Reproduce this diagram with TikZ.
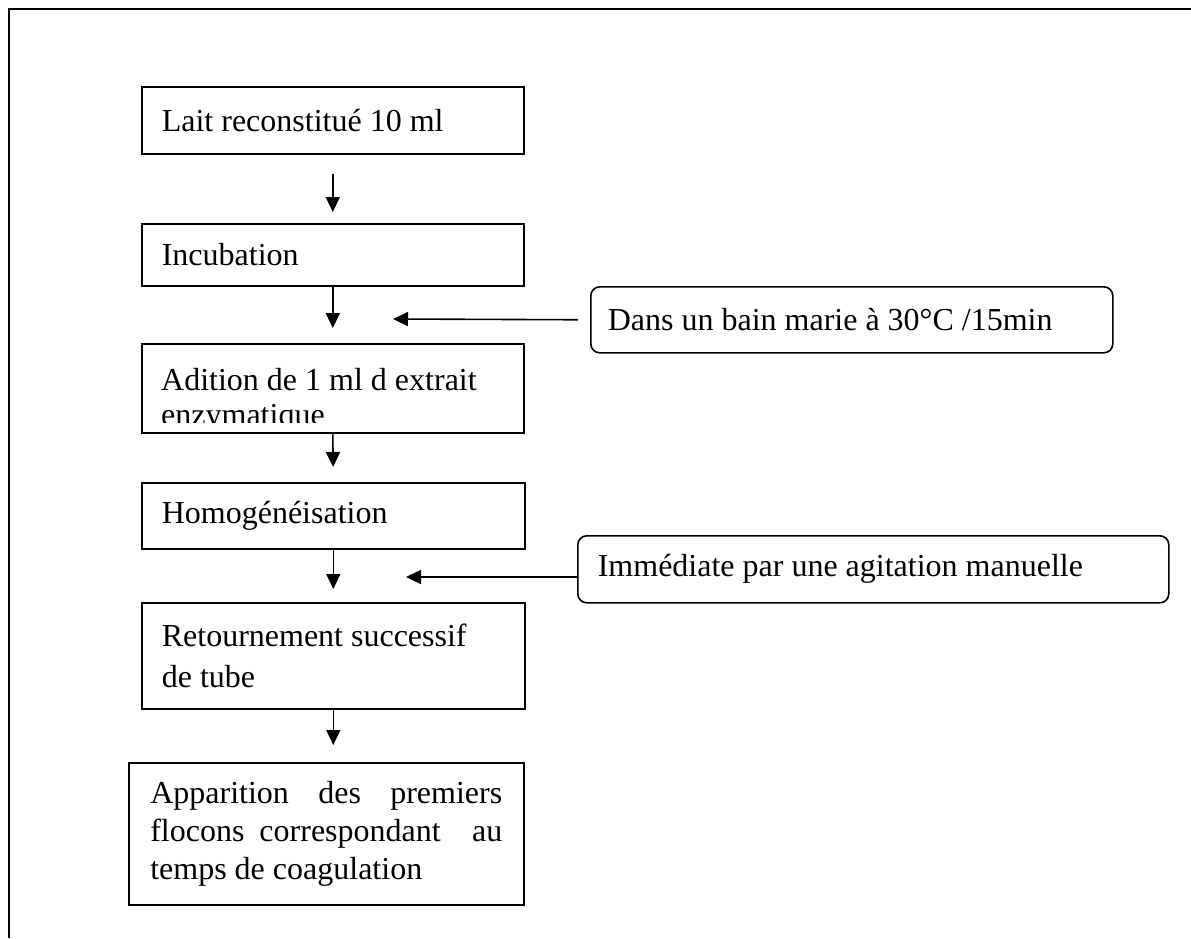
\documentclass[tikz,border=0pt]{standalone}
\usepackage{fontspec}
\setmainfont{Liberation Serif}
\usetikzlibrary{arrows.meta}
\begin{document}
\begin{tikzpicture}[x=1pt,y=-1pt,
  box/.style={draw, line width=1.6pt, anchor=north west, align=flush left,
    inner xsep=20pt, inner ysep=0pt, font=\fontsize{32}{38}\selectfont},
  side/.style={box, rounded corners=9pt},
  txt/.style={anchor=base west, inner sep=0pt, font=\fontsize{32}{38}\selectfont},
  arr/.style={line width=1.6pt, -{Triangle[width=14pt,length=15pt]}},
  framestyle/.style={line width=2pt}]
\useasboundingbox (0,0) rectangle (1191,938);
% outer frame
\draw[framestyle] (9,938) -- (9,9) -- (1191,9);
% main column
\node[box, minimum width=382pt, text width=342pt, minimum height=67pt] (b1) at (141,86) {Lait reconstitué 10 ml};
\node[box, minimum width=382pt, text width=342pt, minimum height=62pt] (b2) at (141,223) {Incubation};
\node[box, minimum width=382pt, text width=342pt, minimum height=89pt] (b3) at (141,343) {};
\begin{scope}
  \clip (142,344) rectangle (522,422);
  \node[txt] (t3a) at (161,390) {Adition de 1 ml d extrait};
  \node[txt] (t3b) at (161,425) {enzymatique};
\end{scope}
\node[box, minimum width=383pt, text width=343pt, minimum height=66pt] (b4) at (141,482) {Homogénéisation};
\node[box, minimum width=383pt, text width=343pt, minimum height=106pt, font=\fontsize{32}{41}\selectfont] (b5) at (141,602) {Retournement successif\\de tube};
\node[box, minimum width=395pt, text width=352pt, inner xsep=21.5pt, minimum height=142pt] (b6) at (128,762)
  {\makebox[\linewidth]{Apparition\hfill des\hfill premiers}\\
   \makebox[\linewidth]{flocons\hskip15pt correspondant\hfill au}\\
   temps de coagulation};
% side notes
\node[side, minimum width=522pt, text width=488pt, inner xsep=17pt, minimum height=66pt] (s1) at (590,286) {Dans un bain marie à 30°C /15min};
\node[side, minimum width=591pt, text width=551pt, minimum height=67pt] (s2) at (577,535) {Immédiate par une agitation manuelle};
% arrows
\draw[arr, shorten <=19pt, shorten >=11pt] (b1.south) -- (b2.north);
\draw[arr, shorten >=15pt] (b2.south) -- (b3.north);
\draw[arr, shorten >=15pt] (b3.south) -- (b4.north);
\draw[arr, shorten >=13pt] (b4.south) -- (b5.north);
\draw[arr, shorten >=17pt] (b5.south) -- (b5.south |- b6.north);
\coordinate (t1) at (393,319);
\coordinate (t2) at (406,577);
\draw[arr, shorten <=12pt] (s1.west) -- (t1);
\draw[arr] (s2.west |- t2) -- (t2);
\end{tikzpicture}
\end{document}
